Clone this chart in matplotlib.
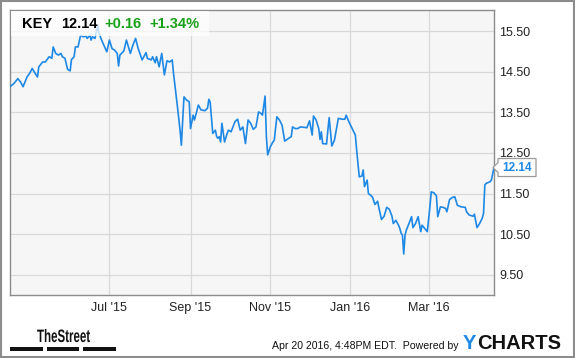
import pandas as pd
import matplotlib.pyplot as plt
import matplotlib.dates as mdates
from matplotlib.patches import Rectangle, Polygon, PathPatch
from matplotlib.textpath import TextPath
from matplotlib.font_manager import FontProperties
from matplotlib.transforms import Affine2D

plt.rcParams['font.family'] = ['Liberation Sans', 'DejaVu Sans']

# datos (cierre diario aprox.)
ticker = 'KEY'
change = 0.16
change_pct = 1.34
stamp = 'Apr 20 2016, 4:48PM EDT.  Powered by'

dates = [
    '2015-04-16', '2015-04-19', '2015-04-22', '2015-04-24', '2015-04-26', '2015-04-29',
    '2015-05-01', '2015-05-03', '2015-05-05', '2015-05-07', '2015-05-08', '2015-05-11',
    '2015-05-13', '2015-05-16', '2015-05-18', '2015-05-19', '2015-05-21', '2015-05-23',
    '2015-05-25', '2015-05-26', '2015-05-28', '2015-05-30', '2015-06-01', '2015-06-02',
    '2015-06-04', '2015-06-05', '2015-06-07', '2015-06-09', '2015-06-11', '2015-06-13',
    '2015-06-14', '2015-06-16', '2015-06-17', '2015-06-18', '2015-06-20', '2015-06-22',
    '2015-06-23', '2015-06-25', '2015-06-29', '2015-07-01', '2015-07-03', '2015-07-05',
    '2015-07-07', '2015-07-08', '2015-07-09', '2015-07-12', '2015-07-14', '2015-07-17',
    '2015-07-19', '2015-07-21', '2015-07-23', '2015-07-26', '2015-07-29', '2015-07-30',
    '2015-08-02', '2015-08-03', '2015-08-05', '2015-08-06', '2015-08-08', '2015-08-10',
    '2015-08-12', '2015-08-14', '2015-08-16', '2015-08-18', '2015-08-19', '2015-08-22',
    '2015-08-24', '2015-08-25', '2015-08-27', '2015-08-29', '2015-08-31', '2015-09-01',
    '2015-09-03', '2015-09-04', '2015-09-07', '2015-09-09', '2015-09-12', '2015-09-14',
    '2015-09-15', '2015-09-16', '2015-09-18', '2015-09-20', '2015-09-21', '2015-09-22',
    '2015-09-23', '2015-09-24', '2015-09-25', '2015-09-27', '2015-09-29', '2015-09-30',
    '2015-10-02', '2015-10-05', '2015-10-07', '2015-10-09', '2015-10-11', '2015-10-13',
    '2015-10-15', '2015-10-17', '2015-10-19', '2015-10-21', '2015-10-23', '2015-10-25',
    '2015-10-26', '2015-10-28', '2015-10-29', '2015-10-30', '2015-11-01', '2015-11-03',
    '2015-11-04', '2015-11-06', '2015-11-08', '2015-11-10', '2015-11-12', '2015-11-15',
    '2015-11-17', '2015-11-18', '2015-11-20', '2015-11-22', '2015-11-24', '2015-11-27',
    '2015-11-29', '2015-12-01', '2015-12-03', '2015-12-04', '2015-12-06', '2015-12-08',
    '2015-12-09', '2015-12-10', '2015-12-11', '2015-12-14', '2015-12-15', '2015-12-16',
    '2015-12-18', '2015-12-20', '2015-12-23', '2015-12-26', '2015-12-28', '2015-12-29',
    '2015-12-31', '2016-01-02', '2016-01-05', '2016-01-06', '2016-01-08', '2016-01-10',
    '2016-01-11', '2016-01-12', '2016-01-14', '2016-01-15', '2016-01-18', '2016-01-20',
    '2016-01-22', '2016-01-23', '2016-01-25', '2016-01-27', '2016-01-29', '2016-01-31',
    '2016-02-02', '2016-02-03', '2016-02-05', '2016-02-07', '2016-02-08', '2016-02-09',
    '2016-02-10', '2016-02-11', '2016-02-12', '2016-02-13', '2016-02-15', '2016-02-17',
    '2016-02-18', '2016-02-20', '2016-02-22', '2016-02-24', '2016-02-25', '2016-02-27',
    '2016-02-29', '2016-03-02', '2016-03-03', '2016-03-05', '2016-03-07', '2016-03-08',
    '2016-03-10', '2016-03-12', '2016-03-14', '2016-03-15', '2016-03-17', '2016-03-19',
    '2016-03-21', '2016-03-23', '2016-03-26', '2016-03-29', '2016-03-30', '2016-04-01',
    '2016-04-04', '2016-04-05', '2016-04-07', '2016-04-09', '2016-04-11', '2016-04-12',
    '2016-04-13', '2016-04-14', '2016-04-17', '2016-04-18', '2016-04-20',
]

prices = [
    14.13, 14.21, 14.33, 14.25, 14.13, 14.37,
    14.46, 14.58, 14.47, 14.37, 14.62, 14.74,
    14.74, 14.87, 14.83, 15.11, 14.95, 14.91,
    14.95, 14.87, 14.83, 14.56, 14.52, 14.80,
    14.87, 15.11, 15.11, 15.40, 15.36, 15.38,
    15.32, 15.40, 15.28, 15.36, 15.32, 15.65,
    15.45, 15.28, 14.99, 15.28, 15.07, 15.03,
    14.95, 14.64, 14.91, 15.01, 15.28, 14.95,
    15.16, 15.32, 15.07, 14.79, 14.97, 14.83,
    14.79, 14.87, 14.72, 14.87, 14.62, 14.95,
    14.42, 14.77, 14.74, 14.79, 14.46, 13.64,
    13.06, 12.69, 13.88, 13.80, 13.76, 13.10,
    13.43, 13.31, 13.68, 13.56, 13.54, 13.60,
    13.82, 13.76, 12.98, 13.06, 12.90, 12.86,
    12.90, 12.77, 13.23, 12.77, 12.98, 13.06,
    13.02, 13.27, 13.33, 13.06, 13.14, 12.73,
    13.31, 13.23, 13.08, 13.14, 13.51, 13.47,
    13.43, 13.90, 12.90, 12.45, 12.65, 12.77,
    12.81, 13.39, 13.31, 13.18, 12.79, 12.86,
    12.90, 13.14, 13.10, 13.10, 13.14, 13.13,
    13.12, 13.29, 12.94, 13.41, 13.31, 13.10,
    12.83, 13.02, 12.73, 12.72, 13.06, 13.37,
    12.67, 12.81, 13.35, 13.33, 13.33, 13.43,
    13.27, 13.14, 12.94, 12.57, 11.91, 11.93,
    12.08, 11.67, 11.83, 11.50, 11.42, 11.23,
    11.31, 11.15, 10.86, 10.94, 11.16, 11.11,
    10.94, 10.76, 10.84, 10.72, 10.64, 10.52,
    10.48, 10.01, 10.48, 10.60, 10.76, 10.93,
    10.66, 10.76, 10.93, 10.56, 10.72, 10.64,
    10.56, 11.17, 11.54, 11.52, 11.44, 10.93,
    11.17, 11.16, 11.13, 11.05, 11.35, 11.40,
    11.42, 11.21, 11.17, 11.16, 11.05, 10.97,
    10.94, 10.99, 10.66, 10.76, 10.89, 11.01,
    11.71, 11.75, 11.79, 11.83, 12.14,
]

tick_dates = ['2015-07-01', '2015-09-01', '2015-11-01', '2016-01-01', '2016-03-01']
tick_labels = ["Jul '15", "Sep '15", "Nov '15", "Jan '16", "Mar '16"]
y_ticks = [9.5, 10.5, 11.5, 12.5, 13.5, 14.5, 15.5]

# colores
line_color = '#1e88e5'
green = '#18a018'
frame_gray = '#8c8c8c'
grid_gray = '#d9d9d9'

W, H = 575, 358
fig = plt.figure(figsize=(W / 100, H / 100), dpi=100)


def fx(x):
    return x / W


def fy(y):
    return 1 - y / H


ax = fig.add_axes([fx(10), fy(295), fx(494) - fx(10), fy(10) - fy(295)])
ax.set_facecolor('#f6f6f6')

d = pd.to_datetime(dates)
ax.plot(d, prices, color=line_color, linewidth=1.2, zorder=3)

ax.set_xlim(d[0], d[-1])
ax.set_ylim(9.0, 16.02)
ax.set_xticks(pd.to_datetime(tick_dates))
ax.set_xticklabels(tick_labels)
ax.set_yticks(y_ticks)
ax.set_yticklabels([f'{v:.2f}' for v in y_ticks])
ax.yaxis.tick_right()
ax.tick_params(axis='both', length=0, labelsize=9, labelcolor='#222222')
ax.tick_params(axis='y', pad=4)
ax.tick_params(axis='x', pad=5)
ax.grid(True, color=grid_gray, linewidth=0.9)
ax.set_axisbelow(True)
for s in ax.spines.values():
    s.set_color(frame_gray)
    s.set_linewidth(1.0)

# recuadro de cabecera semitransparente
fig.patches.append(Rectangle((fx(11), fy(36)), fx(209) - fx(11), fy(11) - fy(36),
                             transform=fig.transFigure, facecolor='white', alpha=0.75,
                             edgecolor='none', zorder=5))
hy = fy(23.5)
fig.text(fx(22), hy, ticker, fontsize=10.5, weight='bold', va='center', zorder=6)
fig.text(fx(61), hy, f'{prices[-1]:.2f}', fontsize=10.5, weight='bold', va='center', zorder=6)
fig.text(fx(104), hy, f'+{change:.2f}', fontsize=10.5, weight='bold', color=green,
         va='center', zorder=6)
fig.text(fx(149), hy, f'+{change_pct:.2f}%', fontsize=10.5, weight='bold', color=green,
         va='center', zorder=6)

# etiqueta del ultimo valor
fig.canvas.draw()
_, py = ax.transData.transform((mdates.date2num(d[-1]), prices[-1]))
py = H - py
pts = [(493, py), (498, py - 5), (498, py - 9), (536, py - 9), (536, py + 9),
       (498, py + 9), (498, py + 5)]
fig.patches.append(Polygon([(fx(x), fy(y)) for x, y in pts], closed=True,
                           transform=fig.transFigure, facecolor='white',
                           edgecolor='#9a9a9a', linewidth=0.9, zorder=5))
fig.text(fx(517), fy(py), f'{prices[-1]:.2f}', fontsize=8.5, weight='bold',
         color=line_color, ha='center', va='center', zorder=6)

# pie: TheStreet (texto estrecho), fecha y logo
tp = TextPath((0, 0), 'TheStreet', size=18,
              prop=FontProperties(family='Liberation Sans', weight='bold'))
fig.patches.append(PathPatch(tp, transform=Affine2D().scale(0.64, 1.0).translate(37, H - 342),
                             facecolor='#111111', edgecolor='none'))
for x0, x1 in [(10, 42.7), (46.7, 79.3), (83.3, 116)]:
    fig.patches.append(Rectangle((fx(x0), fy(350.7)), fx(x1) - fx(x0), fy(347.3) - fy(350.7),
                                 transform=fig.transFigure, facecolor='#111111',
                                 edgecolor='none'))
fig.text(fx(272), fy(349), stamp, fontsize=7.6, va='baseline', color='#111111')
fig.text(fx(463), fy(349), 'Y', fontsize=14.5, weight='bold', va='baseline', color=line_color)
fig.text(fx(477), fy(349), 'CHARTS', fontsize=14.5, weight='bold', va='baseline',
         color='#111111')

# marco exterior
fig.patches.append(Rectangle((0.5 / W, 1.5 / H), 1 - 2 / W, 1 - 2.5 / H,
                             transform=fig.transFigure, fill=False,
                             edgecolor=frame_gray, linewidth=1.5))

fig.savefig('out.png', dpi=100)
